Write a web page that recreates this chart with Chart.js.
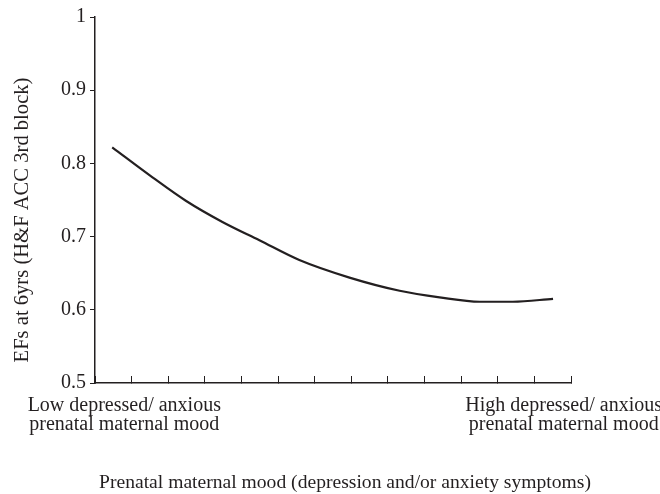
<!DOCTYPE html>
<html>
<head>
<meta charset="utf-8">
<script src="https://cdn.jsdelivr.net/npm/chart.js@4.4.1/dist/chart.umd.min.js"></script>
<style>
  html, body { margin: 0; padding: 0; background: #fff; }
  #wrap { width: 660px; height: 494px; }
</style>
</head>
<body>
<div id="wrap"><canvas id="lineChart" width="660" height="494"></canvas></div>
<script>
// position along the mood axis (0 = lowest, 13 = highest) and EF accuracy
var moodPos = [0.47, 1.57, 2.48, 3.48, 4.49, 5.58, 6.95, 8.32, 9.41, 10.51, 11.41, 12.51];
var efAcc = [0.822, 0.781, 0.749, 0.720, 0.695, 0.668, 0.644, 0.626, 0.617, 0.611, 0.611, 0.615];

var xTickPos = [0, 1, 2, 3, 4, 5, 6, 7, 8, 9, 10, 11, 12, 13];
var xLabelPos = [0.8, 12.8];
var xLabels = [['Low depressed/ anxious', 'prenatal maternal mood'], ['High depressed/ anxious', 'prenatal maternal mood']];
var yTicks = [0.5, 0.6, 0.7, 0.8, 0.9, 1];
var yLabels = ['0.5', '0.6', '0.7', '0.8', '0.9', '1'];

var xTitle = 'Prenatal maternal mood (depression and/or anxiety symptoms)';
var yTitle = 'EFs at 6yrs (H&F ACC 3rd block)';

var ink = '#231f20';
var serif = "'Liberation Serif', 'Times New Roman', serif";

var points = moodPos.map(function(x, i) { return { x: x, y: efAcc[i] }; });

// axis titles sit a little off-centre in the original, so draw them here
var axisTitles = {
    id: 'axisTitles',
    afterDraw: function(chart) {
        var c = chart.ctx, a = chart.chartArea;
        c.save();
        c.fillStyle = ink;
        c.textAlign = 'center';
        c.textBaseline = 'alphabetic';
        c.font = '19.6px ' + serif;
        c.fillText(xTitle, (a.left + a.right) / 2 + 12, a.bottom + 105);
        c.translate(a.left - 67, (a.top + a.bottom) / 2 + 20);
        c.rotate(-Math.PI / 2);
        c.font = '20.6px ' + serif;
        c.fillText(yTitle, 0, 0);
        c.restore();
    }
};

new Chart(document.getElementById('lineChart').getContext('2d'), {
    type: 'line',
    data: {
        datasets: [{
            data: points,
            borderColor: ink,
            borderWidth: 2.2,
            pointRadius: 0,
            cubicInterpolationMode: 'monotone',
            fill: false
        }]
    },
    plugins: [axisTitles],
    options: {
        responsive: false,
        animation: false,
        layout: { padding: { top: 17, right: 89, left: 0, bottom: 0 } },
        plugins: { legend: { display: false }, tooltip: { enabled: false } },
        scales: {
            x: {
                type: 'linear',
                min: 0,
                max: 13,
                afterBuildTicks: function(scale) {
                    var all = xTickPos.concat(xLabelPos).sort(function(a, b) { return a - b; });
                    scale.ticks = all.map(function(v) { return { value: v }; });
                },
                afterFit: function(scale) { scale.height = 111; },
                border: { color: ink, width: 1.5 },
                grid: {
                    drawOnChartArea: false,
                    tickLength: -7,
                    tickWidth: 1,
                    tickColor: function(ctx) {
                        return xTickPos.indexOf(ctx.tick.value) >= 0 ? ink : 'rgba(0,0,0,0)';
                    }
                },
                ticks: {
                    autoSkip: false,
                    maxRotation: 0,
                    padding: 20,
                    color: ink,
                    font: { family: serif, size: 20, lineHeight: 0.97 },
                    callback: function(v) {
                        var k = xLabelPos.indexOf(v);
                        return k >= 0 ? xLabels[k] : '';
                    }
                }
            },
            y: {
                min: 0.5,
                max: 1,
                afterBuildTicks: function(scale) {
                    scale.ticks = yTicks.map(function(v) { return { value: v }; });
                },
                afterFit: function(scale) { scale.width = 95; },
                border: { color: ink, width: 1.5 },
                grid: { drawOnChartArea: false, tickLength: 5, tickColor: ink },
                ticks: {
                    padding: 4,
                    color: ink,
                    font: { family: serif, size: 20 },
                    callback: function(v) { return yLabels[yTicks.indexOf(v)]; }
                }
            }
        }
    }
});
</script>
</body>
</html>
